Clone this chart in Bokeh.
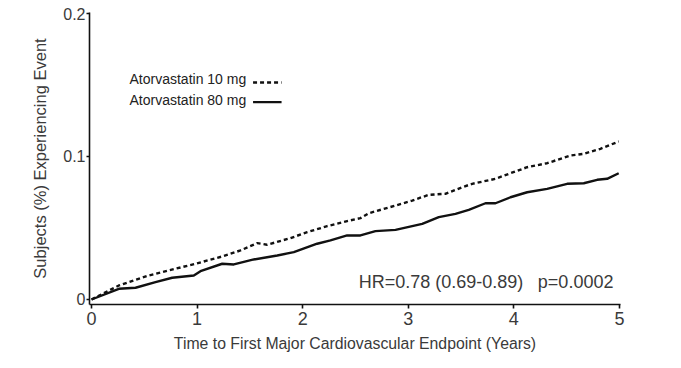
from bokeh.plotting import figure
from bokeh.models import Range1d, Label, FixedTicker
from bokeh.embed import file_html
from bokeh.resources import INLINE

# ---- data ----
years_10mg = [0.0, 0.259, 0.543, 0.795, 0.985, 1.238, 1.411, 1.569, 1.663, 1.884,
              2.043, 2.232, 2.421, 2.547, 2.626, 2.879, 3.037, 3.194, 3.352, 3.510,
              3.605, 3.826, 3.968, 4.126, 4.315, 4.536, 4.662, 4.820, 4.993]
risk_10mg = [0.0, 0.0098, 0.0168, 0.0215, 0.0250, 0.0301, 0.0343, 0.0394, 0.0383, 0.0429,
             0.0471, 0.0513, 0.0548, 0.0569, 0.0603, 0.0657, 0.0692, 0.0732, 0.0739, 0.0785,
             0.0809, 0.0844, 0.0883, 0.0925, 0.0953, 0.1007, 0.1019, 0.1054, 0.1105]

years_80mg = [0.0, 0.259, 0.417, 0.606, 0.764, 0.969, 1.032, 1.238, 1.348, 1.537,
              1.759, 1.916, 2.137, 2.263, 2.421, 2.547, 2.689, 2.879, 3.132, 3.289,
              3.447, 3.573, 3.731, 3.826, 3.968, 4.126, 4.315, 4.505, 4.662, 4.789,
              4.883, 4.993]
risk_80mg = [0.0, 0.0075, 0.0082, 0.0121, 0.0152, 0.0168, 0.0198, 0.0250, 0.0245, 0.0280,
             0.0308, 0.0331, 0.0390, 0.0413, 0.0448, 0.0448, 0.0478, 0.0487, 0.0529, 0.0576,
             0.0599, 0.0627, 0.0673, 0.0673, 0.0715, 0.0750, 0.0774, 0.0809, 0.0813, 0.0837,
             0.0844, 0.0883]

x_ticks = [0, 1, 2, 3, 4, 5]
y_ticks = [0, 0.1, 0.2]
y_tick_labels = ["0", "0.1", "0.2"]
series_names = ["Atorvastatin 10 mg", "Atorvastatin 80 mg"]
hr_parts = ["HR=0.78 (0.69-0.89)", "p=0.0002"]
x_title = "Time to First Major Cardiovascular Endpoint (Years)"
y_title = "Subjects (%) Experiencing Event"

FONT = "Liberation Sans"
TXT = "#3a3a3a"

p = figure(width=665, height=360, output_backend="svg", toolbar_location=None,
           x_range=Range1d(-0.019, 5.01), y_range=Range1d(-0.0035, 0.2007),
           min_border_left=89, min_border_right=45, min_border_top=12, min_border_bottom=56)
p.outline_line_color = None
p.xgrid.visible = False
p.ygrid.visible = False
p.background_fill_color = "white"
p.border_fill_color = "white"

# curves
p.line(years_10mg, risk_10mg, line_color="#111111", line_width=2.4, line_dash="4 3")
p.line(years_80mg, risk_80mg, line_color="#111111", line_width=2.4)

# axes
for ax in (p.xaxis[0], p.yaxis[0]):
    ax.axis_line_color = "#111111"
    ax.axis_line_width = 1.6
    ax.major_tick_line_color = "#111111"
    ax.major_tick_line_width = 1.6
    ax.minor_tick_line_color = None
    ax.major_tick_in = 0
    ax.major_label_text_font = FONT
    ax.major_label_text_color = TXT
    ax.axis_label_text_font = FONT
    ax.axis_label_text_color = TXT
    ax.axis_label_text_font_style = "normal"

p.xaxis.ticker = FixedTicker(ticks=x_ticks)
p.xaxis.major_tick_out = 4
p.xaxis.major_label_text_font_size = "18px"
p.xaxis.major_label_standoff = 3
p.xaxis.axis_label = x_title
p.xaxis.axis_label_text_font_size = "15.8px"
p.xaxis.axis_label_standoff = 7

p.yaxis.ticker = FixedTicker(ticks=y_ticks)
p.yaxis.major_label_overrides = {t: s for t, s in zip(y_ticks, y_tick_labels)}
p.yaxis.major_tick_out = 3
p.yaxis.major_label_text_font_size = "16px"
p.yaxis.major_label_standoff = 1
p.yaxis.axis_label = y_title
p.yaxis.axis_label_text_font_size = "16.5px"
p.yaxis.axis_label_standoff = 11

# legend (label then sample line, as in the reference)
leg_x = 0.36
leg_base = [0.1542, 0.1392]
leg_line_y = [0.1517, 0.1380]
leg_line_x = [1.53, 1.80]
dashes = ["4 3", "solid"]
for name, yb, yl, dash in zip(series_names, leg_base, leg_line_y, dashes):
    p.add_layout(Label(x=leg_x, y=yb, text=name, text_font=FONT, text_font_size="14px",
                       text_color="#222222", text_baseline="alphabetic", text_align="left"))
    p.line(leg_line_x, [yl, yl], line_color="#111111", line_width=2.4, line_dash=dash)

# hazard ratio annotation (two parts, separated by a wide gap)
hr_right = [4.09, 4.943]
for txt, xr in zip(hr_parts, hr_right):
    p.add_layout(Label(x=xr, y=0.0119, text=txt, text_font=FONT, text_font_size="18px",
                       text_color=TXT, text_baseline="alphabetic", text_align="right"))

open("out.html", "w").write(file_html(p, INLINE))
